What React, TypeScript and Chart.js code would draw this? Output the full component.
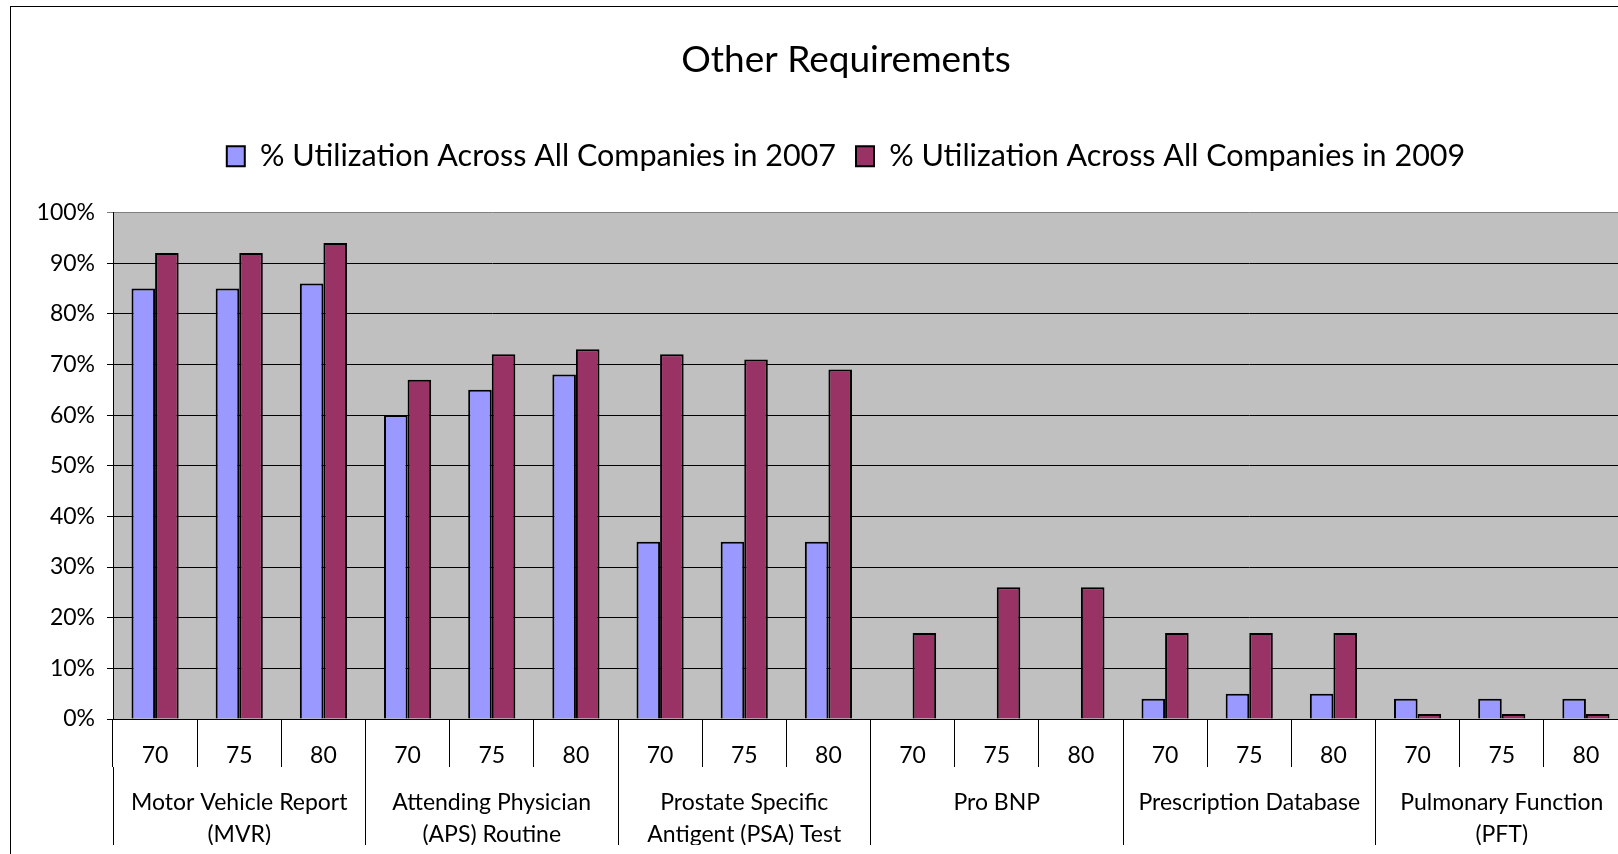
import React, { useEffect, useRef } from 'react';
import { Chart, registerables } from 'chart.js';

Chart.register(...registerables);

const tickLabels = ['70', '75', '80', '70', '75', '80', '70', '75', '80', '70', '75', '80', '70', '75', '80', '70', '75', '80'];
const groupLabels = [
  ['Motor Vehicle Report', '(MVR)'],
  ['Attending Physician', '(APS) Routine'],
  ['Prostate Specific', 'Antigent (PSA) Test'],
  'Pro BNP',
  'Prescription Database',
  ['Pulmonary Function', '(PFT)'],
];
const util2007 = [85, 85, 86, 60, 65, 68, 35, 35, 35, 0, 0, 0, 4, 5, 5, 4, 4, 4];
const util2009 = [92, 92, 94, 67, 72, 73, 72, 71, 69, 17, 26, 26, 17, 17, 17, 1, 1, 1];
const seriesNames = ['% Utilization Across All Companies in 2007', '% Utilization Across All Companies in 2009'];
const titleText = 'Other Requirements';

const FONT = 'Lato';

const plotBg = {
  id: 'plotBg',
  beforeDraw(chart: any) {
    const { ctx, chartArea: a } = chart;
    ctx.save();
    ctx.fillStyle = '#C0C0C0';
    ctx.fillRect(a.left, a.top, a.right - a.left, a.bottom - a.top);
    ctx.restore();
  },
};

export default function App() {
  const ref = useRef<HTMLCanvasElement>(null);
  useEffect(() => {
    if (!ref.current) return;
    const chart = new Chart(ref.current, {
      type: 'bar',
      data: {
        labels: tickLabels,
        datasets: [
          {
            label: seriesNames[0],
            data: util2007,
            backgroundColor: '#9999FF',
            borderColor: '#000000',
            borderWidth: 2,
            xAxisID: 'x',
          },
          {
            label: seriesNames[1],
            data: util2009,
            backgroundColor: '#993366',
            borderColor: '#000000',
            borderWidth: 2,
            xAxisID: 'x',
          },
        ],
      },
      options: {
        responsive: false,
        animation: false,
        devicePixelRatio: 1,
        categoryPercentage: 0.56,
        barPercentage: 1,
        layout: { padding: { left: 53, right: 43, top: 0, bottom: 10 } },
        plugins: {
          title: {
            display: true,
            text: titleText,
            color: '#000',
            font: { family: FONT, size: 37, weight: 'normal', lineHeight: 1.2 },
            padding: { top: 31, bottom: 38.6 },
          },
          subtitle: {
            display: true,
            text: '',
            weight: 500,
            font: { size: 1, lineHeight: 1 },
            padding: { top: 0, bottom: 30 },
          } as any,
          legend: {
            display: true,
            labels: {
              color: '#000',
              font: { family: FONT, size: 30.5 },
              boxWidth: 18,
              boxHeight: 20,
              padding: 20,
            },
          },
          tooltip: { enabled: false },
        },
        scales: {
          y: {
            min: 0,
            max: 100,
            ticks: {
              stepSize: 10,
              callback: (v: any) => `${v}%`,
              color: '#000',
              font: { family: FONT, size: 23 },
              padding: 12,
            },
            grid: {
              color: (c: any) => (c.tick && c.tick.value === 100 ? '#808080' : '#000000'),
              lineWidth: 1,
              tickLength: 6,
            },
            border: { display: true, color: '#000', width: 1 },
            afterFit: (s: any) => {
              s.width = 49;
              // let tick labels extend into the left padding instead of being clipped
              s._computeLabelArea = () => undefined;
            },
          },
          x: {
            type: 'category',
            position: 'bottom',
            weight: 0,
            offset: true,
            grid: {
              drawOnChartArea: false,
              offset: true,
              tickLength: 48,
              color: '#000',
              lineWidth: 1,
            },
            border: { display: true, color: '#000', width: 1 },
            ticks: {
              autoSkip: false,
              maxRotation: 0,
              minRotation: 0,
              color: '#000',
              font: { family: FONT, size: 23, lineHeight: 1.2 },
              padding: -25,
            },
            afterFit: (s: any) => {
              s.height = 48;
            },
          },
          x2: {
            type: 'category',
            axis: 'x',
            position: 'bottom',
            weight: 1,
            labels: groupLabels as any,
            offset: true,
            grid: {
              drawOnChartArea: false,
              offset: true,
              tickLength: 78,
              color: '#000',
              lineWidth: 1,
            },
            border: { display: false },
            ticks: {
              autoSkip: false,
              maxRotation: 0,
              minRotation: 0,
              color: '#000',
              font: { family: FONT, size: 23, lineHeight: '31.5px' as any },
              padding: -58,
            },
            afterFit: (s: any) => {
              s.height = 78;
            },
          } as any,
        },
      },
      plugins: [plotBg],
    });
    return () => chart.destroy();
  }, []);

  return (
    <div style={{ position: 'fixed', left: 0, top: 0, right: 0, bottom: 0, overflow: 'hidden', background: '#fff' }}>
      <div
        style={{
          position: 'absolute',
          left: 10,
          top: 6,
          borderLeft: '1px solid #000',
          borderTop: '1px solid #000',
          width: 1660,
          height: 848,
        }}
      >
        <canvas ref={ref} width={1660} height={848} style={{ display: 'block', width: 1660, height: 848 }} />
      </div>
    </div>
  );
}
